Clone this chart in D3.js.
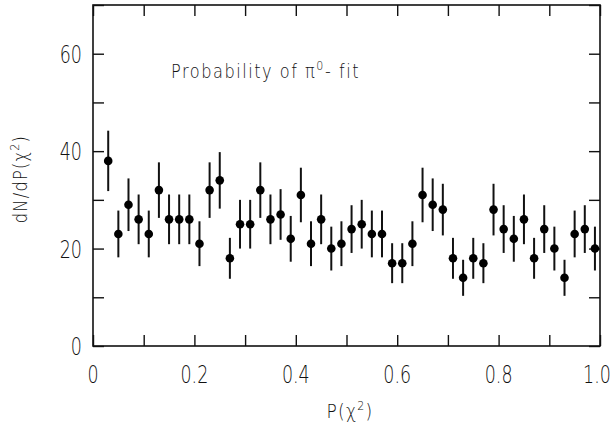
<!DOCTYPE html>
<html>
<head>
<meta charset="utf-8">
<script src="https://cdn.jsdelivr.net/npm/d3@7"></script>
<style>
  body { margin: 0; background: #fff; }
  text { font-family: "DejaVu Sans", sans-serif; font-weight: 300; fill: #111; }
</style>
</head>
<body>
<div id="chart"></div>
<script>
// bin centres of P(chi^2)
var pValues = [0.03, 0.05, 0.07, 0.09, 0.11, 0.13, 0.15, 0.17, 0.19, 0.21,
               0.23, 0.25, 0.27, 0.29, 0.31, 0.33, 0.35, 0.37, 0.39, 0.41,
               0.43, 0.45, 0.47, 0.49, 0.51, 0.53, 0.55, 0.57, 0.59, 0.61,
               0.63, 0.65, 0.67, 0.69, 0.71, 0.73, 0.75, 0.77, 0.79, 0.81,
               0.83, 0.85, 0.87, 0.89, 0.91, 0.93, 0.95, 0.97, 0.99];
// dN/dP counts
var counts = [38, 23, 29, 26, 23, 32, 26, 26, 26, 21,
              32, 34, 18, 25, 25, 32, 26, 27, 22, 31,
              21, 26, 20, 21, 24, 25, 23, 23, 17, 17,
              21, 31, 29, 28, 18, 14, 18, 17, 28, 24,
              22, 26, 18, 24, 20, 14, 23, 24, 20];
// error bar half-lengths
var errors = [6.2, 4.8, 5.4, 5.1, 4.8, 5.7, 5.1, 5.1, 5.1, 4.6,
              5.7, 5.8, 4.2, 5.0, 5.0, 5.7, 5.1, 5.2, 4.7, 5.6,
              4.6, 5.1, 4.5, 4.6, 4.9, 5.0, 4.8, 4.8, 4.1, 4.1,
              4.6, 5.6, 5.4, 5.3, 4.2, 3.7, 4.2, 4.1, 5.3, 4.9,
              4.7, 5.1, 4.2, 4.9, 4.5, 3.7, 4.8, 4.9, 4.5];

var xTickLabels = [0, 0.2, 0.4, 0.6, 0.8, 1.0];
var yTickLabels = [0, 20, 40, 60];

var width = 612, height = 427;
var margin = {top: 5, right: 12, bottom: 81, left: 93};

var svg = d3.select("#chart").append("svg")
    .attr("width", width)
    .attr("height", height);

var x = d3.scaleLinear().domain([0, 1]).range([margin.left, width - margin.right]);
var y = d3.scaleLinear().domain([0, 70]).range([height - margin.bottom, margin.top]);

var tickLen = 11;
var squeeze = 0.7; // narrow plotter lettering

function styleTicks(g) {
    g.select(".domain").remove();
    g.selectAll("line").attr("stroke", "#111").attr("stroke-width", 1.4);
}

// bottom axis: ticks every 0.1 pointing inward, labels every 0.2
svg.append("g")
    .attr("transform", "translate(0," + y(0) + ")")
    .call(d3.axisBottom(x).tickValues(d3.range(0, 1.01, 0.1)).tickSize(-tickLen).tickFormat(""))
    .call(styleTicks);
svg.append("g")
    .selectAll("text")
    .data(xTickLabels)
    .join("text")
    .attr("transform", function(d) {
        // keep the last label inside the page
        var cx = Math.min(x(d), width - 15);
        return "translate(" + cx + "," + (y(0) + 37) + ") scale(" + squeeze + ",1)";
    })
    .attr("text-anchor", "middle")
    .attr("font-size", 25)
    .text(function(d) { return d === 0 ? "0" : d.toFixed(1); });

// top axis
svg.append("g")
    .attr("transform", "translate(0," + y(70) + ")")
    .call(d3.axisTop(x).tickValues(d3.range(0, 1.01, 0.1)).tickSize(-tickLen).tickFormat(""))
    .call(styleTicks);

// left axis
svg.append("g")
    .attr("transform", "translate(" + x(0) + ",0)")
    .call(d3.axisLeft(y).tickValues(d3.range(0, 71, 10)).tickSize(-tickLen).tickFormat(""))
    .call(styleTicks);
svg.append("g")
    .selectAll("text")
    .data(yTickLabels)
    .join("text")
    .attr("transform", function(d) {
        return "translate(" + (x(0) - 11) + "," + (y(d) + 9) + ") scale(" + squeeze + ",1)";
    })
    .attr("text-anchor", "end")
    .attr("font-size", 25)
    .text(function(d) { return d; });

// right axis
svg.append("g")
    .attr("transform", "translate(" + x(1) + ",0)")
    .call(d3.axisRight(y).tickValues(d3.range(0, 71, 10)).tickSize(-tickLen).tickFormat(""))
    .call(styleTicks);

// frame
svg.append("rect")
    .attr("x", x(0))
    .attr("y", y(70))
    .attr("width", x(1) - x(0))
    .attr("height", y(0) - y(70))
    .attr("fill", "none")
    .attr("stroke", "#111")
    .attr("stroke-width", 1.6);

// error bars
svg.append("g")
    .selectAll("line")
    .data(counts)
    .join("line")
    .attr("x1", function(d, i) { return x(pValues[i]); })
    .attr("x2", function(d, i) { return x(pValues[i]); })
    .attr("y1", function(d, i) { return y(d - errors[i]); })
    .attr("y2", function(d, i) { return y(d + errors[i]); })
    .attr("stroke", "#111")
    .attr("stroke-width", 2);

// points
svg.append("g")
    .selectAll("circle")
    .data(counts)
    .join("circle")
    .attr("cx", function(d, i) { return x(pValues[i]); })
    .attr("cy", function(d) { return y(d); })
    .attr("r", 4.3)
    .attr("fill", "#000");

// annotation
var note = svg.append("text")
    .attr("transform", "translate(171,78) scale(0.85,1)")
    .attr("font-size", 19)
    .attr("letter-spacing", 1.8);
note.append("tspan").text("Probability of  \u03c0");
note.append("tspan").attr("dy", -8).attr("font-size", 13).text("0");
note.append("tspan").attr("dy", 8).text("- fit");

// x axis title
var xt = svg.append("text")
    .attr("transform", "translate(350,418) scale(0.85,1)")
    .attr("text-anchor", "middle")
    .attr("font-size", 20)
    .attr("letter-spacing", 1.5);
xt.append("tspan").text("P(\u03c7");
xt.append("tspan").attr("dy", -8).attr("font-size", 13).text("2");
xt.append("tspan").attr("dy", 8).text(")");

// y axis title
var yt = svg.append("text")
    .attr("transform", "translate(27,179) rotate(-90) scale(0.85,1)")
    .attr("text-anchor", "middle")
    .attr("font-size", 19)
    .attr("letter-spacing", 1.5);
yt.append("tspan").text("dN/dP(\u03c7");
yt.append("tspan").attr("dy", -8).attr("font-size", 13).text("2");
yt.append("tspan").attr("dy", 8).text(")");
</script>
</body>
</html>
